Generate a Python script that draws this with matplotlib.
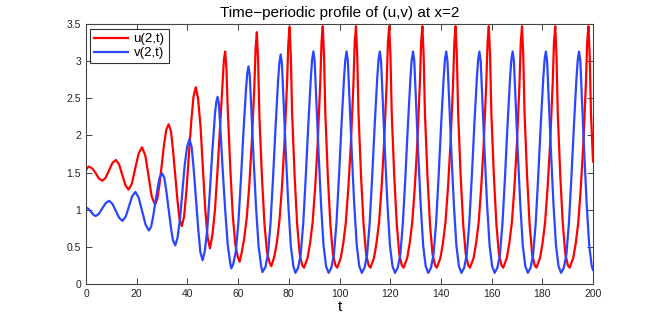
import matplotlib
matplotlib.use("Agg")
import matplotlib.pyplot as plt
from matplotlib.ticker import MultipleLocator

# ---- data (time, value) ----
t_u = [0.0, 0.65, 1.3, 2.6, 3.85, 5.1, 6.4, 7.75, 9.1, 10.45, 11.8, 13.05, 14.3, 15.55, 16.8,
       18.1, 19.45, 20.8, 22.1, 23.4, 24.65, 25.9, 27.2, 28.1, 29.0, 29.9, 30.8, 31.7, 32.6,
       33.5, 34.3, 35.2, 36.1, 36.9, 37.8, 38.7, 39.6, 40.55, 41.5, 42.4, 43.3,
       44.2, 45.2, 46.1, 47.0, 48.0, 48.9, 49.9, 50.9, 51.9, 52.9, 53.9, 54.4, 54.9,
       55.4, 55.9, 56.9, 57.9, 58.9, 59.9, 60.6, 61.4, 62.4, 63.4, 64.4, 65.4, 66.4, 66.9, 67.4,
       67.9, 68.4, 69.4, 70.4, 71.4, 72.4, 73.1, 74.3, 75.3, 76.3, 77.3, 78.3, 79.3, 79.8,
       80.3, 80.8, 81.3, 82.3, 83.3, 84.3, 85.3, 86.0, 87.4, 88.4, 89.4, 90.4, 91.4, 92.4, 92.9,
       93.4, 93.9, 94.4, 95.4, 96.4, 97.4, 98.4, 99.1, 100.5, 101.5, 102.5, 103.5, 104.5, 105.5, 106.0,
       106.5, 107.0, 107.5, 108.5, 109.5, 110.5, 111.5, 112.2, 113.6, 114.6, 115.6, 116.6, 117.6, 118.6, 119.1,
       119.6, 120.1, 120.6, 121.6, 122.6, 123.6, 124.6, 125.3, 126.7, 127.7, 128.7, 129.7, 130.7, 131.7, 132.2,
       132.7, 133.2, 133.7, 134.7, 135.7, 136.7, 137.7, 138.4, 139.8, 140.8, 141.8, 142.8, 143.8, 144.8, 145.3,
       145.8, 146.3, 146.8, 147.8, 148.8, 149.8, 150.8, 151.5, 152.9, 153.9, 154.9, 155.9, 156.9, 157.9, 158.4,
       158.9, 159.4, 159.9, 160.9, 161.9, 162.9, 163.9, 164.6, 166.0, 167.0, 168.0, 169.0, 170.0, 171.0, 171.5,
       172.0, 172.5, 173.0, 174.0, 175.0, 176.0, 177.0, 177.7, 179.1, 180.1, 181.1, 182.1, 183.1, 184.1, 184.6,
       185.1, 185.6, 186.1, 187.1, 188.1, 189.1, 190.1, 190.8, 192.2, 193.2, 194.2, 195.2, 196.2, 197.2, 197.7,
       198.2, 198.7, 199.2, 200.0]
u_vals = [1.53, 1.57, 1.58, 1.55, 1.49, 1.42, 1.39, 1.43, 1.53, 1.63, 1.67, 1.61, 1.47, 1.33, 1.27,
          1.35, 1.56, 1.76, 1.84, 1.73, 1.46, 1.18, 1.07, 1.14, 1.34, 1.61, 1.88, 2.08, 2.15,
          2.06, 1.81, 1.47, 1.12, 0.87, 0.78, 0.91, 1.25, 1.72, 2.18, 2.52, 2.65,
          2.50, 2.11, 1.57, 1.02, 0.62, 0.48, 0.67, 1.01, 1.54, 2.12, 2.73, 3.02, 3.13,
          2.90, 2.37, 1.57, 0.92, 0.53, 0.36, 0.30, 0.42, 0.61, 0.89, 1.32, 1.91, 2.65, 3.17, 3.39,
          3.00, 2.26, 1.44, 0.81, 0.43, 0.29, 0.24, 0.37, 0.56, 0.85, 1.30, 1.91, 2.69, 3.23,
          3.46, 3.07, 2.30, 1.45, 0.80, 0.40, 0.25, 0.22, 0.35, 0.55, 0.83, 1.30, 1.90, 2.70, 3.25,
          3.47, 3.07, 2.30, 1.45, 0.80, 0.40, 0.25, 0.22, 0.35, 0.55, 0.83, 1.30, 1.90, 2.70, 3.25,
          3.47, 3.07, 2.30, 1.45, 0.80, 0.40, 0.25, 0.22, 0.35, 0.55, 0.83, 1.30, 1.90, 2.70, 3.25,
          3.47, 3.07, 2.30, 1.45, 0.80, 0.40, 0.25, 0.22, 0.35, 0.55, 0.83, 1.30, 1.90, 2.70, 3.25,
          3.47, 3.07, 2.30, 1.45, 0.80, 0.40, 0.25, 0.22, 0.35, 0.55, 0.83, 1.30, 1.90, 2.70, 3.25,
          3.47, 3.07, 2.30, 1.45, 0.80, 0.40, 0.25, 0.22, 0.35, 0.55, 0.83, 1.30, 1.90, 2.70, 3.25,
          3.47, 3.07, 2.30, 1.45, 0.80, 0.40, 0.25, 0.22, 0.35, 0.55, 0.83, 1.30, 1.90, 2.70, 3.25,
          3.47, 3.07, 2.30, 1.45, 0.80, 0.40, 0.25, 0.22, 0.35, 0.55, 0.83, 1.30, 1.90, 2.70, 3.25,
          3.47, 3.07, 2.30, 1.45, 0.80, 0.40, 0.25, 0.22, 0.35, 0.55, 0.83, 1.30, 1.90, 2.70, 3.25,
          3.47, 3.07, 2.30, 1.65]

t_v = [0.0, 1.0, 2.0, 3.0, 3.8, 5.1, 6.45, 7.8, 9.1, 10.4, 11.75, 13.1, 14.4, 15.7, 16.95, 18.2, 19.5,
       20.8, 22.15, 23.5, 24.8, 25.7, 26.5, 27.4, 28.3, 29.1, 30.0, 30.9, 31.7, 32.6, 33.5, 34.3, 35.2,
       36.1, 37.1, 38.0, 38.9, 39.9, 40.8, 41.7, 42.5, 43.4, 44.3, 45.1, 46.0,
       46.9, 47.9, 48.9, 49.9, 50.9, 51.4, 51.9, 52.4, 52.9, 53.9, 54.9, 55.9, 56.9, 57.3,
       58.1, 59.1, 60.1, 61.1, 62.1, 63.1, 63.6, 64.1, 64.6, 65.1, 66.1, 67.1, 68.1, 69.1, 69.6,
       70.8, 71.8, 72.8, 73.8, 74.8, 75.8, 76.3, 76.8, 77.3, 77.8, 78.8, 79.8, 80.8, 81.8, 82.6,
       83.7, 84.7, 85.7, 86.7, 87.7, 88.7, 89.2,
       89.7, 90.2, 90.7, 91.7, 92.7, 93.7, 94.7, 95.7, 96.8, 97.8, 98.8, 99.8, 100.8, 101.8, 102.3,
       102.8, 103.3, 103.8, 104.8, 105.8, 106.8, 107.8, 108.8, 109.9, 110.9, 111.9, 112.9, 113.9, 114.9, 115.4,
       115.9, 116.4, 116.9, 117.9, 118.9, 119.9, 120.9, 121.9, 123.0, 124.0, 125.0, 126.0, 127.0, 128.0, 128.5,
       129.0, 129.5, 130.0, 131.0, 132.0, 133.0, 134.0, 135.0, 136.1, 137.1, 138.1, 139.1, 140.1, 141.1, 141.6,
       142.1, 142.6, 143.1, 144.1, 145.1, 146.1, 147.1, 148.1, 149.2, 150.2, 151.2, 152.2, 153.2, 154.2, 154.7,
       155.2, 155.7, 156.2, 157.2, 158.2, 159.2, 160.2, 161.2, 162.3, 163.3, 164.3, 165.3, 166.3, 167.3, 167.8,
       168.3, 168.8, 169.3, 170.3, 171.3, 172.3, 173.3, 174.3, 175.4, 176.4, 177.4, 178.4, 179.4, 180.4, 180.9,
       181.4, 181.9, 182.4, 183.4, 184.4, 185.4, 186.4, 187.4, 188.5, 189.5, 190.5, 191.5, 192.5, 193.5, 194.0,
       194.5, 195.0, 195.5, 196.5, 197.5, 198.5, 199.5, 200.0]
v_vals = [1.03, 1.01, 0.97, 0.93, 0.915, 0.945, 1.02, 1.09, 1.12, 1.08, 0.985, 0.89, 0.85, 0.91, 1.045, 1.18, 1.24,
          1.16, 0.98, 0.80, 0.72, 0.77, 0.91, 1.11, 1.30, 1.44, 1.49, 1.43, 1.25, 1.01, 0.76, 0.59, 0.52,
          0.62, 0.88, 1.24, 1.59, 1.85, 1.95, 1.84, 1.54, 1.14, 0.73, 0.43, 0.32,
          0.45, 0.76, 1.27, 1.82, 2.30, 2.45, 2.52, 2.43, 2.15, 1.55, 1.00, 0.53, 0.28, 0.21,
          0.27, 0.44, 0.82, 1.40, 2.04, 2.61, 2.83, 2.93, 2.81, 2.44, 1.69, 1.02, 0.50, 0.24, 0.16,
          0.23, 0.41, 0.82, 1.44, 2.13, 2.75, 2.98, 3.09, 2.96, 2.57, 1.78, 1.07, 0.51, 0.24, 0.15,
          0.22, 0.40, 0.82, 1.45, 2.15, 2.78, 3.02,
          3.13, 3.00, 2.60, 1.80, 1.08, 0.52, 0.24, 0.15, 0.22, 0.40, 0.82, 1.45, 2.15, 2.78, 3.02,
          3.13, 3.00, 2.60, 1.80, 1.08, 0.52, 0.24, 0.15, 0.22, 0.40, 0.82, 1.45, 2.15, 2.78, 3.02,
          3.13, 3.00, 2.60, 1.80, 1.08, 0.52, 0.24, 0.15, 0.22, 0.40, 0.82, 1.45, 2.15, 2.78, 3.02,
          3.13, 3.00, 2.60, 1.80, 1.08, 0.52, 0.24, 0.15, 0.22, 0.40, 0.82, 1.45, 2.15, 2.78, 3.02,
          3.13, 3.00, 2.60, 1.80, 1.08, 0.52, 0.24, 0.15, 0.22, 0.40, 0.82, 1.45, 2.15, 2.78, 3.02,
          3.13, 3.00, 2.60, 1.80, 1.08, 0.52, 0.24, 0.15, 0.22, 0.40, 0.82, 1.45, 2.15, 2.78, 3.02,
          3.13, 3.00, 2.60, 1.80, 1.08, 0.52, 0.24, 0.15, 0.22, 0.40, 0.82, 1.45, 2.15, 2.78, 3.02,
          3.13, 3.00, 2.60, 1.80, 1.08, 0.52, 0.24, 0.15, 0.22, 0.40, 0.82, 1.45, 2.15, 2.78, 3.02,
          3.13, 3.00, 2.60, 1.80, 1.08, 0.52, 0.24, 0.19]

series_labels = ["u(2,t)", "v(2,t)"]
y_ticks = [0, 0.5, 1, 1.5, 2, 2.5, 3, 3.5]
y_tick_labels = ['0', '0.5', '1', '1.5', '2', '2.5', '3', '3.5']
title_text = "Time\u2212periodic profile of (u,v) at x=2"
x_label = "t"

plt.rcParams['font.family'] = ['Liberation Sans', 'DejaVu Sans']

fig = plt.figure(figsize=(6.54, 3.2), dpi=100)
ax = fig.add_axes([86/654, 36/320, 507/654, 260/320])

ax.plot(t_u, u_vals, color='#ff0000', lw=1.6, label=series_labels[0])
ax.plot(t_v, v_vals, color='#2a46ff', lw=1.6, label=series_labels[1])

ax.set_xlim(0, 200)
ax.set_ylim(0, 3.5)
ax.xaxis.set_major_locator(MultipleLocator(20))
ax.set_yticks(y_ticks)
ax.set_yticklabels(y_tick_labels)
ax.tick_params(direction='in', top=True, right=True, length=4, width=0.6,
               labelsize=7.5, colors='#222222', pad=3.5)
for s in ax.spines.values():
    s.set_linewidth(0.8)
    s.set_color('#444444')

ax.set_title(title_text, fontsize=11, pad=5)
ax.set_xlabel(x_label, fontsize=11, labelpad=1)

leg = ax.legend(loc='upper left', bbox_to_anchor=(0.008, 0.981), borderaxespad=0,
                fontsize=9.5, frameon=True, fancybox=False, handlelength=2.6,
                handletextpad=0.4, borderpad=0.3, labelspacing=0.15)
leg.get_frame().set_edgecolor('black')
leg.get_frame().set_linewidth(0.8)

fig.savefig('out.png', dpi=100)
